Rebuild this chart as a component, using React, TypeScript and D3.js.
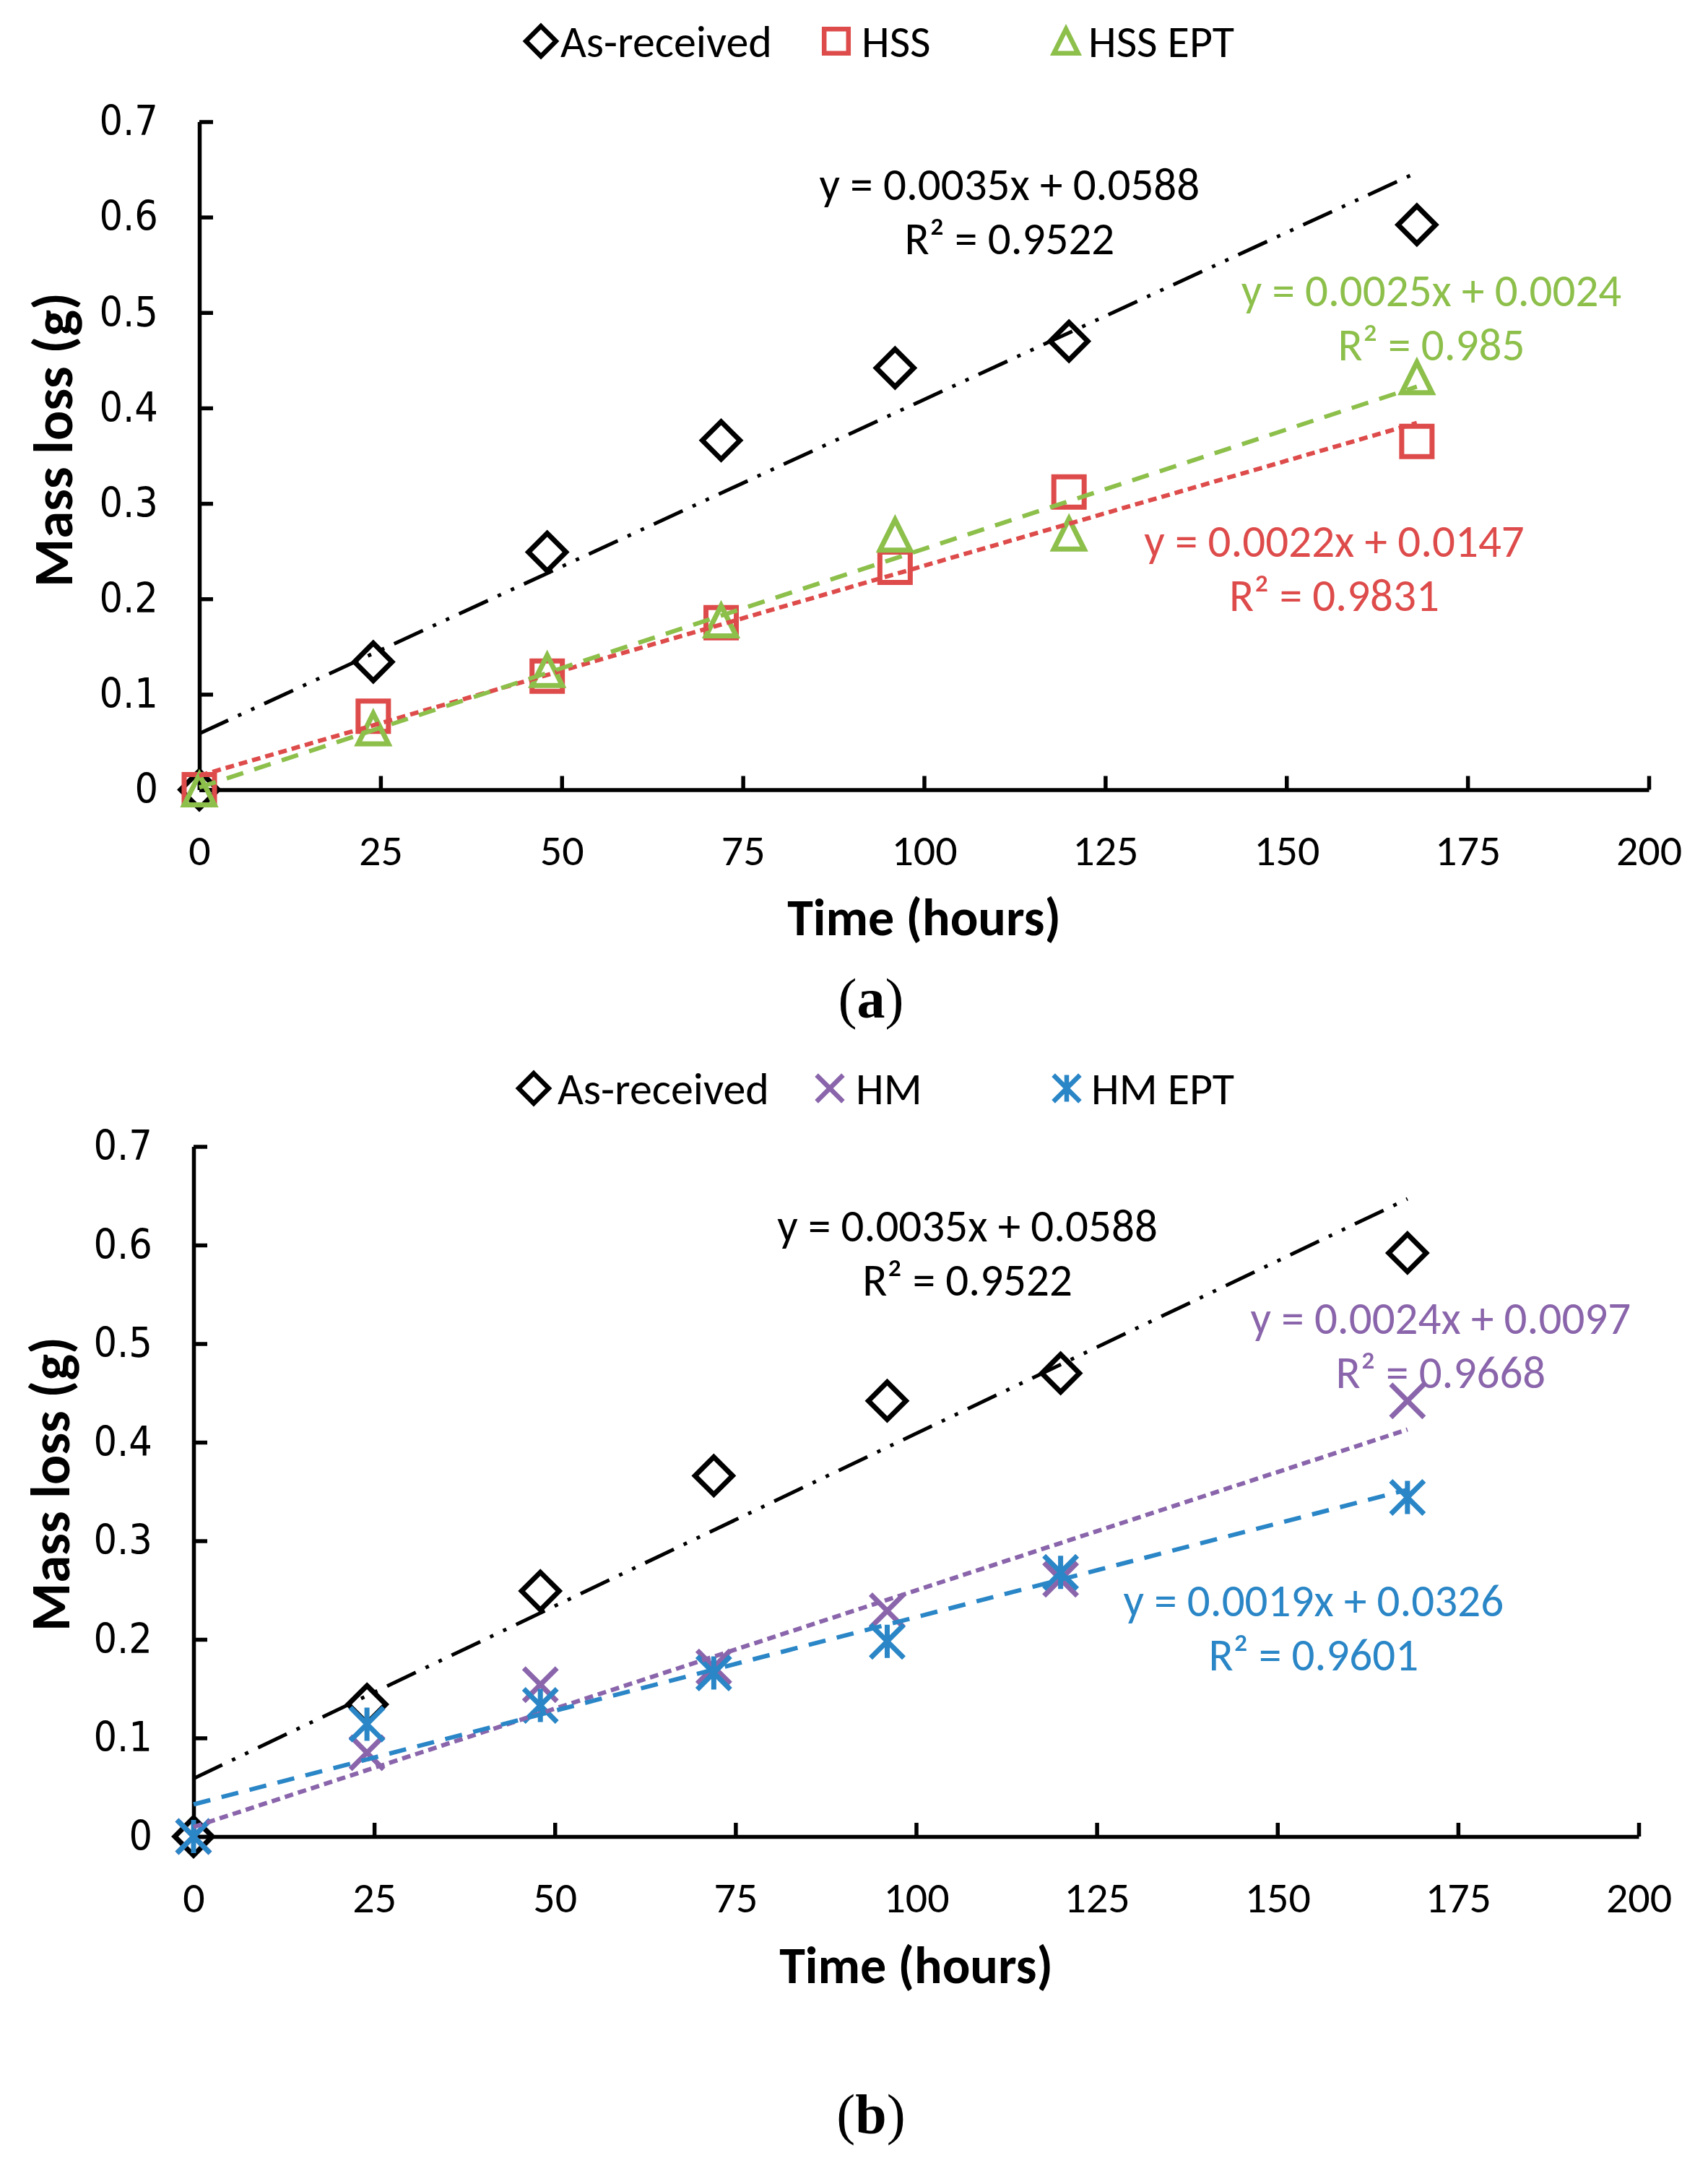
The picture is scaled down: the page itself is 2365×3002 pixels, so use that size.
// @ts-nocheck
import { useEffect, useRef } from 'react';
import * as d3 from 'd3';

// Sampling times (hours) shared by every series
const hours = [0, 24, 48, 72, 96, 120, 168];

// Measured mass loss (g)
const asReceived = [0, 0.134, 0.249, 0.366, 0.442, 0.47, 0.592];
const hss = [0, 0.077, 0.119, 0.175, 0.233, 0.312, 0.365];
const hssEpt = [0, 0.064, 0.125, 0.177, 0.267, 0.268, 0.432];
const hm = [0, 0.085, 0.154, 0.172, 0.229, 0.261, 0.442];
const hmEpt = [0, 0.114, 0.133, 0.166, 0.198, 0.268, 0.344];

// Linear trendlines: [slope, intercept, R²]
const fitAsReceived = [0.0035, 0.0588, '0.9522'];
const fitHss = [0.0022, 0.0147, '0.9831'];
const fitHssEpt = [0.0025, 0.0024, '0.985'];
const fitHm = [0.0024, 0.0097, '0.9668'];
const fitHmEpt = [0.0019, 0.0326, '0.9601'];

// Where each equation block sits, in data units [hours, g]
const labelAsReceivedA = [111.8, 0.6346];
const labelHss = [156.6, 0.2607];
const labelHssEpt = [170.0, 0.5233];
const labelAsReceivedB = [107.1, 0.6198];
const labelHm = [172.6, 0.526];
const labelHmEpt = [155.0, 0.2396];

const xTicks = [0, 25, 50, 75, 100, 125, 150, 175, 200];
const yTicks = [0, 0.1, 0.2, 0.3, 0.4, 0.5, 0.6, 0.7];
const fitRange = [0, 168];

const BLACK = '#000000';
const RED = '#DE4B4B';
const GREEN = '#8DBF4B';
const PURPLE = '#8A65AB';
const BLUE = '#2A86C6';

const SANS = 'Carlito, Calibri, Lato, sans-serif';
const TICK_FONT = '"DejaVu Sans Condensed", "DejaVu Sans", Verdana, sans-serif';

const series = {
  asReceived: { name: 'As-received', values: asReceived, fit: fitAsReceived, color: BLACK, shape: 'diamond', dash: '44 15 5 15 5 15', lw: 5 },
  hss: { name: 'HSS', values: hss, fit: fitHss, color: RED, shape: 'square', dash: '12 7', lw: 6 },
  hssEpt: { name: 'HSS EPT', values: hssEpt, fit: fitHssEpt, color: GREEN, shape: 'triangle', dash: '24 16', lw: 6 },
  hm: { name: 'HM', values: hm, fit: fitHm, color: PURPLE, shape: 'x', dash: '12 7', lw: 6 },
  hmEpt: { name: 'HM EPT', values: hmEpt, fit: fitHmEpt, color: BLUE, shape: 'asterisk', dash: '24 16', lw: 6 }
};

const panels = [
  {
    tag: 'a',
    left: 276, right: 2283, top: 168.5, bottom: 1093.5,
    legendY: 57, xTitleY: 1270, yTitleX: 73, yTitleY: 609, tagY: 1383,
    legend: [['asReceived', 749, 776], ['hss', 1158, 1193], ['hssEpt', 1476, 1507]],
    items: [['asReceived', labelAsReceivedA], ['hss', labelHss], ['hssEpt', labelHssEpt]]
  },
  {
    tag: 'b',
    left: 268, right: 2269, top: 1587.5, bottom: 2543,
    legendY: 1507, xTitleY: 2721, yTitleX: 69, yTitleY: 2055, tagY: 2928,
    legend: [['asReceived', 739, 772], ['hm', 1149, 1185], ['hmEpt', 1477, 1511]],
    items: [['asReceived', labelAsReceivedB], ['hm', labelHm], ['hmEpt', labelHmEpt]]
  }
];

const markerPath = (shape, r) => {
  switch (shape) {
    case 'diamond':
      return `M0,${-r}L${r},0L0,${r}L${-r},0Z`;
    case 'square':
      return `M${-r},${-r}H${r}V${r}H${-r}Z`;
    case 'triangle':
      return `M0,${-r}L${r},${r}H${-r}Z`;
    case 'x':
      return `M${-r},${-r}L${r},${r}M${r},${-r}L${-r},${r}`;
    default:
      return `M${-r},${-r}L${r},${r}M${r},${-r}L${-r},${r}M0,${-r}V${r}`;
  }
};

const markerSize = { diamond: 26, square: 21, triangle: 21, x: 23, asterisk: 23 };

const fmtY = d => (d === 0 ? '0' : d.toFixed(1));
const fmtCoef = v => v.toFixed(4);

const App = () => {
  const svgRef = useRef();

  useEffect(() => {
    const svg = d3.select(svgRef.current);
    svg.selectAll('*').remove();

    svg.append('rect').attr('width', 2365).attr('height', 3002).attr('fill', '#fff');

    panels.forEach(p => {
      const g = svg.append('g');

      const x = d3.scaleLinear().domain([0, 200]).range([p.left, p.right]);
      const y = d3.scaleLinear().domain([0, 0.7]).range([p.bottom, p.top]);

      // Axes with inward ticks
      const xAxis = g
        .append('g')
        .attr('transform', `translate(0,${p.bottom})`)
        .call(d3.axisBottom(x).tickValues(xTicks).tickSizeInner(-19).tickSizeOuter(0).tickPadding(62).tickFormat(d3.format('d')));
      xAxis.attr('font-family', SANS).attr('font-size', 60);

      const yAxis = g
        .append('g')
        .attr('transform', `translate(${p.left},0)`)
        .call(d3.axisLeft(y).tickValues(yTicks).tickSizeInner(-19).tickSizeOuter(0).tickPadding(57).tickFormat(fmtY));
      yAxis.attr('font-family', TICK_FONT).attr('font-size', 57);

      [xAxis, yAxis].forEach(a => {
        a.selectAll('path, line').attr('stroke', '#000').attr('stroke-width', 5.5);
        a.selectAll('text').attr('fill', '#000');
      });

      // Axis titles
      g.append('text')
        .attr('x', (p.left + p.right) / 2)
        .attr('y', p.xTitleY)
        .attr('dy', '0.35em')
        .attr('text-anchor', 'middle')
        .attr('font-family', SANS)
        .attr('font-weight', 'bold')
        .attr('font-size', 72)
        .text('Time (hours)');

      g.append('text')
        .attr('transform', `translate(${p.yTitleX},${p.yTitleY}) rotate(-90)`)
        .attr('dy', '0.35em')
        .attr('text-anchor', 'middle')
        .attr('font-family', SANS)
        .attr('font-weight', 'bold')
        .attr('font-size', 77)
        .text('Mass loss (g)');

      // Markers
      p.items.forEach(([key]) => {
        const s = series[key];
        g.append('g')
          .selectAll('path')
          .data(hours.map((h, i) => [h, s.values[i]]))
          .enter()
          .append('path')
          .attr('transform', d => `translate(${x(d[0])},${y(d[1])})`)
          .attr('d', markerPath(s.shape, markerSize[s.shape]))
          .attr('fill', 'none')
          .attr('stroke', s.color)
          .attr('stroke-width', 7);
      });

      // Trendlines
      p.items.forEach(([key]) => {
        const s = series[key];
        const [m, b] = s.fit;
        const pts = fitRange.map(h => [h, m * h + b]);
        g.append('path')
          .datum(pts)
          .attr('d', d3.line().x(d => x(d[0])).y(d => y(d[1])))
          .attr('fill', 'none')
          .attr('stroke', s.color)
          .attr('stroke-width', s.lw)
          .attr('stroke-dasharray', s.dash);
      });

      // Equation labels
      p.items.forEach(([key, pos]) => {
        const s = series[key];
        const [m, b, r2] = s.fit;
        const t = g
          .append('text')
          .attr('text-anchor', 'middle')
          .attr('font-family', SANS)
          .attr('font-size', 63)
          .attr('fill', s.color);
        t.append('tspan')
          .attr('x', x(pos[0]))
          .attr('y', y(pos[1]))
          .attr('dy', '0.35em')
          .text(`y = ${fmtCoef(m)}x + ${fmtCoef(b)}`);
        t.append('tspan')
          .attr('x', x(pos[0]))
          .attr('y', y(pos[1]) + 75)
          .attr('dy', '0.35em')
          .text(`R² = ${r2}`);
      });

      // Legend
      p.legend.forEach(([key, mx, tx]) => {
        const s = series[key];
        g.append('path')
          .attr('transform', `translate(${mx},${p.legendY})`)
          .attr('d', markerPath(s.shape, markerSize[s.shape] * 0.8))
          .attr('fill', 'none')
          .attr('stroke', s.color)
          .attr('stroke-width', 6.5);
        g.append('text')
          .attr('x', tx)
          .attr('y', p.legendY)
          .attr('dy', '0.35em')
          .attr('font-family', SANS)
          .attr('font-size', 62)
          .text(s.name);
      });

      // Panel tag
      const tag = g
        .append('text')
        .attr('x', 1206)
        .attr('y', p.tagY)
        .attr('dy', '0.33em')
        .attr('text-anchor', 'middle')
        .attr('font-family', '"Liberation Serif", "Times New Roman", serif')
        .attr('font-size', 78);
      tag.append('tspan').text('(');
      tag.append('tspan').attr('font-weight', 'bold').text(p.tag);
      tag.append('tspan').text(')');
    });
  }, []);

  return (
    <svg
      ref={svgRef}
      width={2365}
      height={3002}
      style={{ position: 'absolute', left: 0, top: 0, display: 'block' }}
    ></svg>
  );
};

export default App;
